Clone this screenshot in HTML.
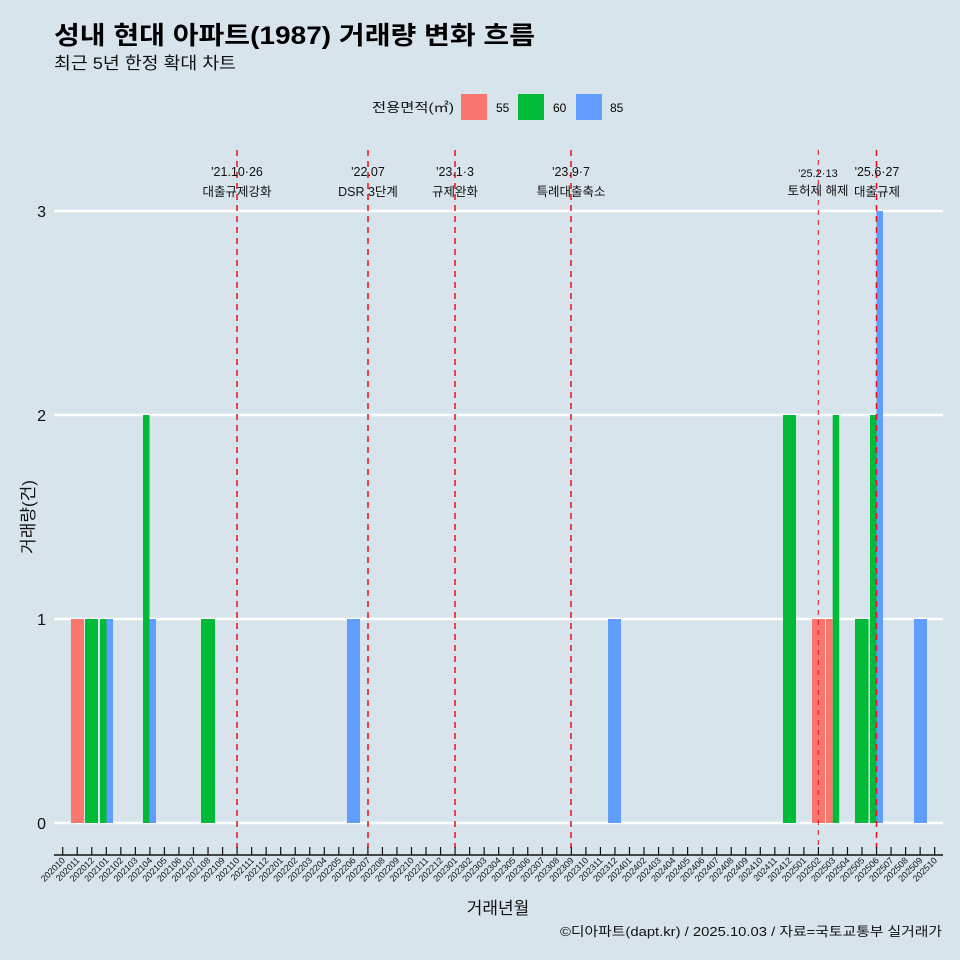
<!DOCTYPE html>
<html><head><meta charset="utf-8"><style>
body{margin:0;background:#d7e4eb;}
svg{display:block;font-family:"Liberation Sans","Noto Sans CJK KR",sans-serif;}
</style></head><body>
<svg width="960" height="960" viewBox="0 0 960 960" xmlns="http://www.w3.org/2000/svg">
<rect width="960" height="960" fill="#d7e4eb"/>
<text x="54" y="44" font-size="25" font-weight="bold" fill="#000" textLength="481" lengthAdjust="spacingAndGlyphs">성내 현대 아파트(1987) 거래량 변화 흐름</text>
<text x="54" y="69" font-size="17" fill="#111" textLength="182" lengthAdjust="spacingAndGlyphs">최근 5년 한정 확대 차트</text>
<text x="372" y="112" font-size="13" fill="#111" textLength="82" lengthAdjust="spacingAndGlyphs">전용면적(㎡)</text>
<rect x="461" y="94" width="26" height="26" fill="#f8766d"/><text x="496" y="112" font-size="12">55</text>
<rect x="518" y="94" width="26" height="26" fill="#00ba38"/><text x="553" y="112" font-size="12">60</text>
<rect x="576" y="94" width="26" height="26" fill="#619cff"/><text x="610" y="112" font-size="12">85</text>
<g stroke="#fff" stroke-width="2.5">
<line x1="54" y1="211" x2="943" y2="211"/><line x1="54" y1="415" x2="943" y2="415"/>
<line x1="54" y1="619" x2="943" y2="619"/><line x1="54" y1="823" x2="943" y2="823"/>
</g>
<g font-size="16" fill="#111" text-anchor="end">
<text x="46" y="217">3</text><text x="46" y="421">2</text><text x="46" y="625">1</text><text x="46" y="829">0</text>
</g>
<rect x="71" y="619" width="13" height="204" fill="#f8766d"/>
<rect x="85" y="619" width="13" height="204" fill="#00ba38"/>
<rect x="100" y="619" width="6.5" height="204" fill="#00ba38"/>
<rect x="106.5" y="619" width="6.5" height="204" fill="#619cff"/>
<rect x="143" y="415" width="6.5" height="408" fill="#00ba38"/>
<rect x="149.5" y="619" width="6.5" height="204" fill="#619cff"/>
<rect x="201" y="619" width="14" height="204" fill="#00ba38"/>
<rect x="347" y="619" width="13" height="204" fill="#619cff"/>
<rect x="608" y="619" width="13" height="204" fill="#619cff"/>
<rect x="783" y="415" width="13" height="408" fill="#00ba38"/>
<rect x="812" y="619" width="13" height="204" fill="#f8766d"/>
<rect x="826" y="619" width="6.7" height="204" fill="#f8766d"/>
<rect x="832.7" y="415" width="6.5" height="408" fill="#00ba38"/>
<rect x="855" y="619" width="13.5" height="204" fill="#00ba38"/>
<rect x="870" y="415" width="6.5" height="408" fill="#00ba38"/>
<rect x="876.5" y="211" width="6.5" height="612" fill="#619cff"/>
<rect x="914" y="619" width="13" height="204" fill="#619cff"/>
<g stroke="#e8101a" stroke-width="1.5" stroke-dasharray="6,5">
<line x1="237" y1="150" x2="237" y2="848"/>
<line x1="368" y1="150" x2="368" y2="848"/>
<line x1="455" y1="150" x2="455" y2="848"/>
<line x1="571" y1="150" x2="571" y2="848"/>
<line x1="876.5" y1="150" x2="876.5" y2="848"/>
</g>
<line x1="818.3" y1="150" x2="818.3" y2="848" stroke="#e8101a" stroke-width="1" stroke-dasharray="5,5"/>
<g font-size="12.5" fill="#111" text-anchor="middle">
<text x="237" y="176">'21.10·26</text><text x="237" y="196">대출규제강화</text>
<text x="368" y="176">'22.07</text><text x="368" y="196">DSR 3단계</text>
<text x="455" y="176">'23.1·3</text><text x="455" y="196">규제완화</text>
<text x="571" y="176">'23.9·7</text><text x="571" y="196">특례대출축소</text>
<text x="818" y="177" font-size="11">'25.2·13</text><text x="818" y="195">토허제 해제</text>
<text x="877" y="176">'25.6·27</text><text x="877" y="196">대출규제</text>
</g>
<line x1="54" y1="855" x2="943" y2="855" stroke="#111" stroke-width="1.5"/>
<g id="ticks" stroke="#111" stroke-width="1.2"></g>
<g id="labs" font-size="9" fill="#111" text-anchor="end"></g>
<text x="498" y="914" font-size="17" fill="#111" text-anchor="middle">거래년월</text>
<text x="34" y="517" font-size="17" fill="#111" text-anchor="middle" transform="rotate(-90 34 517)">거래량(건)</text>
<text x="942" y="936" font-size="13" fill="#111" text-anchor="end" textLength="382" lengthAdjust="spacingAndGlyphs">©디아파트(dapt.kr) / 2025.10.03 / 자료=국토교통부 실거래가</text>
<script>
var t=document.getElementById('ticks'),l=document.getElementById('labs'),ns="http://www.w3.org/2000/svg";
var y=2020,m=10;
for(var i=0;i<61;i++){var x=62.7+14.533*i;
var ln=document.createElementNS(ns,'line');ln.setAttribute('x1',x);ln.setAttribute('x2',x);ln.setAttribute('y1',847);ln.setAttribute('y2',855);t.appendChild(ln);
var tx=document.createElementNS(ns,'text');var lx=x+3,ly=861;tx.setAttribute('x',lx);tx.setAttribute('y',ly);tx.setAttribute('transform','rotate(-45 '+lx+' '+ly+')');
tx.textContent=''+y+(m<10?'0':'')+m;l.appendChild(tx);m++;if(m>12){m=1;y++;}}
</script>
</svg>
</body></html>
